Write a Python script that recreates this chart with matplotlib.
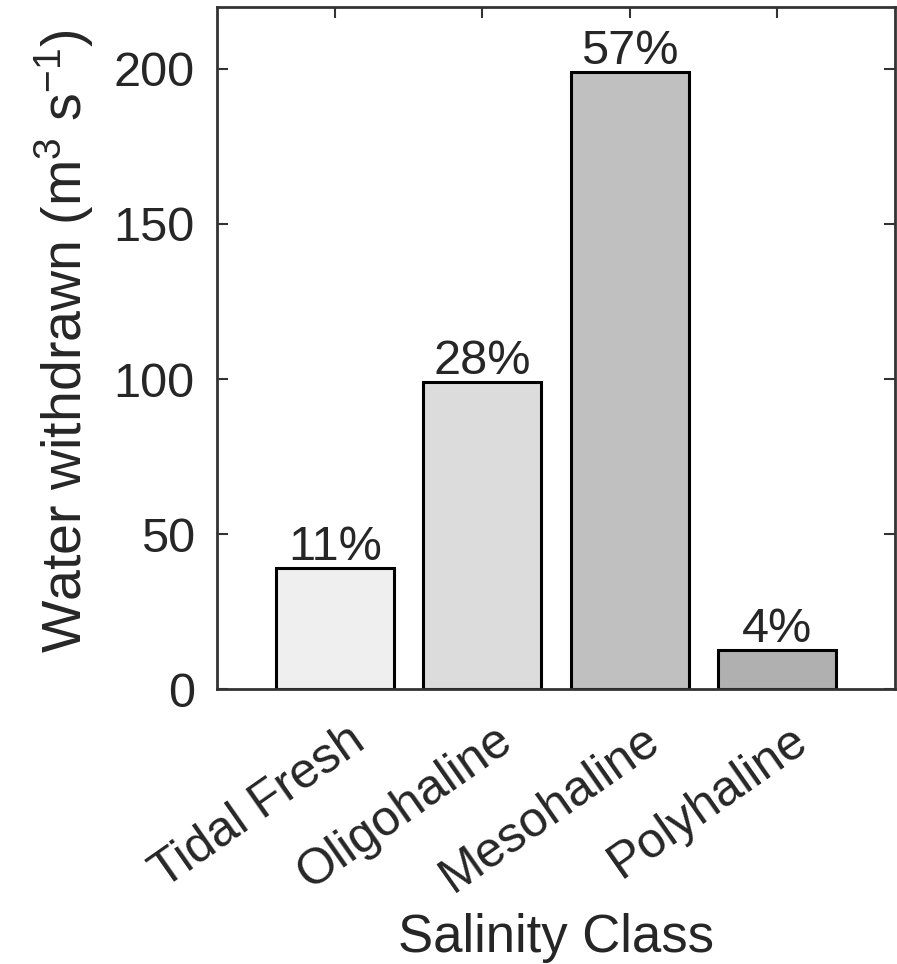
import numpy as np
import matplotlib.pyplot as plt
from matplotlib.transforms import ScaledTranslation

plt.rcParams['font.family'] = ['Liberation Sans', 'DejaVu Sans']
plt.rcParams['mathtext.fontset'] = 'custom'
plt.rcParams['mathtext.rm'] = 'Liberation Sans'
plt.rcParams['mathtext.it'] = 'Liberation Sans'

# Salinity classes and withdrawal values
classes = ['Tidal Fresh', 'Oligohaline', 'Mesohaline', 'Polyhaline']
withdrawn = [39, 99, 199, 12.5]
percent = ['11%', '28%', '57%', '4%']
bar_colors = ['#efefef', '#dcdcdc', '#c0c0c0', '#b0b0b0']
yticks = [0, 50, 100, 150, 200]

txt = '#262626'
fig = plt.figure(figsize=(8.97, 9.64), dpi=100)
ax = fig.add_axes([0.242, 0.285, 0.756, 0.708])

x = np.arange(1, len(classes) + 1)
ax.bar(x, withdrawn, width=0.8, color=bar_colors, edgecolor='black', linewidth=2.2, zorder=2)

for xi, v, p in zip(x, withdrawn, percent):
    ax.annotate(p, (xi, v), xytext=(0, 6), textcoords='offset points',
                ha='center', va='baseline', fontsize=35, color=txt)

ax.set_xlim(0.2, 4.8)
ax.set_ylim(0, 220)
ax.set_yticks(yticks)
ax.set_xticks(x)
ax.set_xticklabels(classes, rotation=35, ha='right', va='top', rotation_mode='anchor')

ax.tick_params(direction='in', length=8, width=1.5, top=True, right=True,
               labelsize=36, labelcolor=txt, color='#333333')
ax.tick_params(axis='y', labelsize=35, pad=16)
ax.tick_params(axis='x', pad=20)
for lab in ax.get_xticklabels():
    lab.set_transform(lab.get_transform() + ScaledTranslation(0.12, 0, fig.dpi_scale_trans))

for s in ax.spines.values():
    s.set_linewidth(2)
    s.set_color('#333333')

ax.set_xlabel('Salinity Class', fontsize=38, color=txt, labelpad=8)
ax.set_ylabel('Water withdrawn (m$^3$ s$^{-1}$)', fontsize=40, color=txt)
ax.yaxis.set_label_coords(-0.178, 0.51)

fig.savefig('out.png', dpi=100)
